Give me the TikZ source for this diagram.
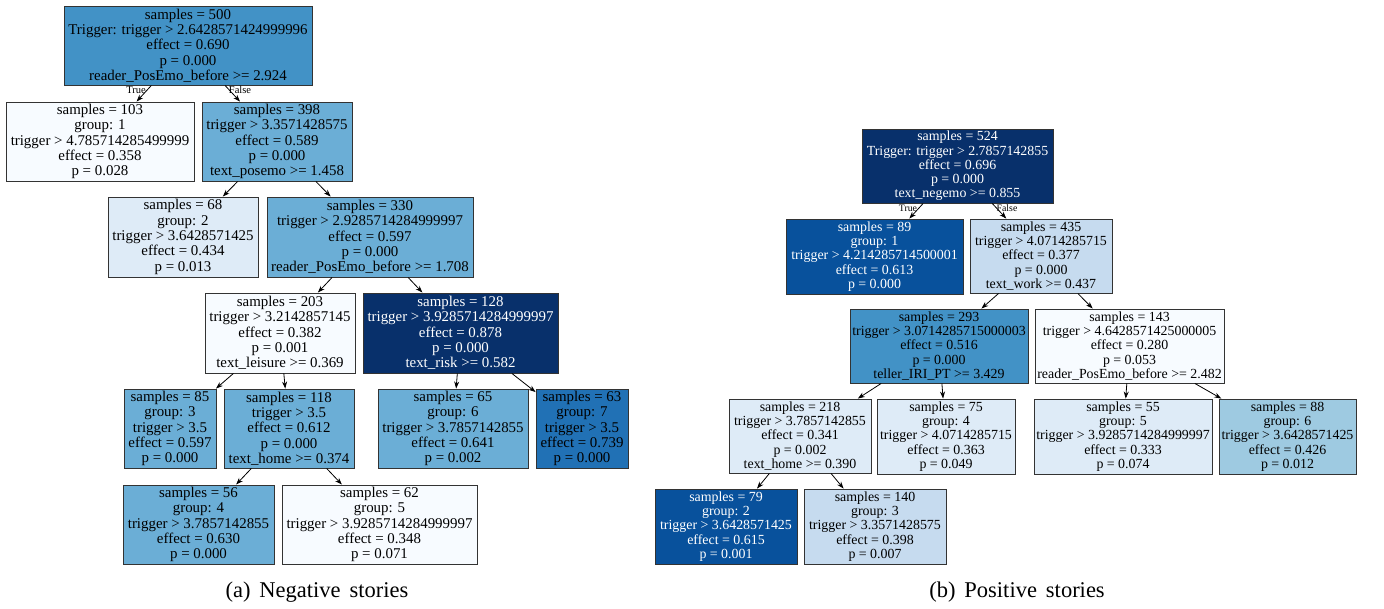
\documentclass[tikz,border=0pt]{standalone}
\usepackage{fontspec}
\setmainfont{Liberation Serif}
\usetikzlibrary{arrows.meta}
\definecolor{bA}{HTML}{F7FBFF}
\definecolor{bB}{HTML}{DEEBF7}
\definecolor{bC}{HTML}{C6DBEF}
\definecolor{bD}{HTML}{9ECAE1}
\definecolor{bE}{HTML}{6BAED6}
\definecolor{bF}{HTML}{4292C6}
\definecolor{bG}{HTML}{2171B5}
\definecolor{bH}{HTML}{08519C}
\definecolor{bI}{HTML}{08306B}
\newcommand\mycaptfont{\fontsize{22.5}{26}\selectfont\spaceskip 0.4em\relax}
\tikzset{
  tbox/.style={rectangle, draw=black!80, line width=0.9pt, inner sep=0pt, align=center},
  lbox/.style={tbox, font=\fontsize{14.9}{15.3}\selectfont},
  rbox/.style={tbox, font=\fontsize{13.9}{14.3}\selectfont},
  wtxt/.style={text=white},
  edge/.style={draw=black, line width=0.8pt, -{Stealth[length=7pt,width=5pt]}},
  elab/.style={inner sep=0pt, font=\fontsize{10.5}{11}\selectfont},
  relab/.style={inner sep=0pt, font=\fontsize{9.8}{10}\selectfont},
  capt/.style={inner sep=0pt, font=\mycaptfont}
}
\begin{document}
\begin{tikzpicture}[x=1pt,y=-1pt]
\useasboundingbox (0,0) rectangle (1384,608);
% ---------- left tree ----------
\node[lbox, fill=bF, minimum width=248pt, minimum height=79pt] (L0) at (188,45.5) {samples = 500\\Trigger: trigger > 2.6428571424999996\\effect = 0.690\\p = 0.000\\reader\_PosEmo\_before >= 2.924};
\node[lbox, fill=bA, minimum width=188pt, minimum height=79pt] (L1) at (100,141.5) {samples = 103\\group: 1\\trigger > 4.785714285499999\\effect = 0.358\\p = 0.028};
\node[lbox, fill=bE, minimum width=150pt, minimum height=79pt] (L2) at (277,141.5) {samples = 398\\trigger > 3.3571428575\\effect = 0.589\\p = 0.000\\text\_posemo >= 1.458};
\node[lbox, fill=bB, minimum width=150pt, minimum height=80pt] (L3) at (183,237) {samples = 68\\group: 2\\trigger > 3.6428571425\\effect = 0.434\\p = 0.013};
\node[lbox, fill=bE, minimum width=206pt, minimum height=80pt] (L4) at (370,237) {samples = 330\\trigger > 2.9285714284999997\\effect = 0.597\\p = 0.000\\reader\_PosEmo\_before >= 1.708};
\node[lbox, fill=bA, minimum width=150pt, minimum height=80pt] (L5) at (280,333) {samples = 203\\trigger > 3.2142857145\\effect = 0.382\\p = 0.001\\text\_leisure >= 0.369};
\node[lbox, fill=bI, wtxt, minimum width=195pt, minimum height=80pt] (L6) at (460.5,333) {samples = 128\\trigger > 3.9285714284999997\\effect = 0.878\\p = 0.000\\text\_risk >= 0.582};
\node[lbox, fill=bE, minimum width=92pt, minimum height=79pt] (L7) at (170,428.5) {samples = 85\\group: 3\\trigger > 3.5\\effect = 0.597\\p = 0.000};
\node[lbox, fill=bE, minimum width=130pt, minimum height=79pt] (L8) at (289,428.5) {samples = 118\\trigger > 3.5\\effect = 0.612\\p = 0.000\\text\_home >= 0.374};
\node[lbox, fill=bE, minimum width=150pt, minimum height=79pt] (L9) at (453,428.5) {samples = 65\\group: 6\\trigger > 3.7857142855\\effect = 0.641\\p = 0.002};
\node[lbox, fill=bG, minimum width=92pt, minimum height=79pt] (L10) at (582,428.5) {samples = 63\\group: 7\\trigger > 3.5\\effect = 0.739\\p = 0.000};
\node[lbox, fill=bE, minimum width=151pt, minimum height=79pt] (L11) at (198.5,524.5) {samples = 56\\group: 4\\trigger > 3.7857142855\\effect = 0.630\\p = 0.000};
\node[lbox, fill=bA, minimum width=195pt, minimum height=79pt] (L12) at (379.5,524.5) {samples = 62\\group: 5\\trigger > 3.9285714284999997\\effect = 0.348\\p = 0.071};
\draw[edge] (L0) -- (L1);
\draw[edge] (L0) -- (L2);
\draw[edge] (L2) -- (L3);
\draw[edge] (L2) -- (L4);
\draw[edge] (L4) -- (L5);
\draw[edge] (L4) -- (L6);
\draw[edge] (L5) -- (L7);
\draw[edge] (L5) -- (L8);
\draw[edge] (L6) -- (L9);
\draw[edge] (L6) -- (L10);
\draw[edge] (L8) -- (L11);
\draw[edge] (L8) -- (L12);
\node[elab] (LT) at (136,90) {True};
\node[elab] (LF) at (240,90) {False};
% ---------- right tree ----------
\node[rbox, fill=bI, wtxt, minimum width=191pt, minimum height=74pt] (R0) at (957.5,166) {samples = 524\\Trigger: trigger > 2.7857142855\\effect = 0.696\\p = 0.000\\text\_negemo >= 0.855};
\node[rbox, fill=bH, wtxt, minimum width=177pt, minimum height=75pt] (R1) at (874.5,256.5) {samples = 89\\group: 1\\trigger > 4.214285714500001\\effect = 0.613\\p = 0.000};
\node[rbox, fill=bC, minimum width=142pt, minimum height=74pt] (R2) at (1041,256) {samples = 435\\trigger > 4.0714285715\\effect = 0.377\\p = 0.000\\text\_work >= 0.437};
\node[rbox, fill=bF, minimum width=178pt, minimum height=74pt] (R3) at (939,346) {samples = 293\\trigger > 3.0714285715000003\\effect = 0.516\\p = 0.000\\teller\_IRI\_PT >= 3.429};
\node[rbox, fill=bA, minimum width=189pt, minimum height=74pt] (R4) at (1129.5,346) {samples = 143\\trigger > 4.6428571425000005\\effect = 0.280\\p = 0.053\\reader\_PosEmo\_before >= 2.482};
\node[rbox, fill=bB, minimum width=142pt, minimum height=74pt] (R5) at (800,436) {samples = 218\\trigger > 3.7857142855\\effect = 0.341\\p = 0.002\\text\_home >= 0.390};
\node[rbox, fill=bB, minimum width=138pt, minimum height=75pt] (R6) at (946,436.5) {samples = 75\\group: 4\\trigger > 4.0714285715\\effect = 0.363\\p = 0.049};
\node[rbox, fill=bB, minimum width=178pt, minimum height=75pt] (R7) at (1123,436.5) {samples = 55\\group: 5\\trigger > 3.9285714284999997\\effect = 0.333\\p = 0.074};
\node[rbox, fill=bD, minimum width=137pt, minimum height=75pt] (R8) at (1287.5,436.5) {samples = 88\\group: 6\\trigger > 3.6428571425\\effect = 0.426\\p = 0.012};
\node[rbox, fill=bH, wtxt, minimum width=142pt, minimum height=75pt] (R9) at (726,526.5) {samples = 79\\group: 2\\trigger > 3.6428571425\\effect = 0.615\\p = 0.001};
\node[rbox, fill=bC, minimum width=142pt, minimum height=75pt] (R10) at (875,526.5) {samples = 140\\group: 3\\trigger > 3.3571428575\\effect = 0.398\\p = 0.007};
\draw[edge] (R0) -- (R1);
\draw[edge] (R0) -- (R2);
\draw[edge] (R2) -- (R3);
\draw[edge] (R2) -- (R4);
\draw[edge] (R3) -- (R5);
\draw[edge] (R3) -- (R6);
\draw[edge] (R4) -- (R7);
\draw[edge] (R4) -- (R8);
\draw[edge] (R5) -- (R9);
\draw[edge] (R5) -- (R10);
\node[relab] (RT) at (908,208) {True};
\node[relab] (RF) at (1007,208) {False};
% ---------- captions ----------
\node[capt] (CA) at (317,592) {(a) Negative stories};
\node[capt] (CB) at (1017,592) {(b) Positive stories};
\end{tikzpicture}
\end{document}
